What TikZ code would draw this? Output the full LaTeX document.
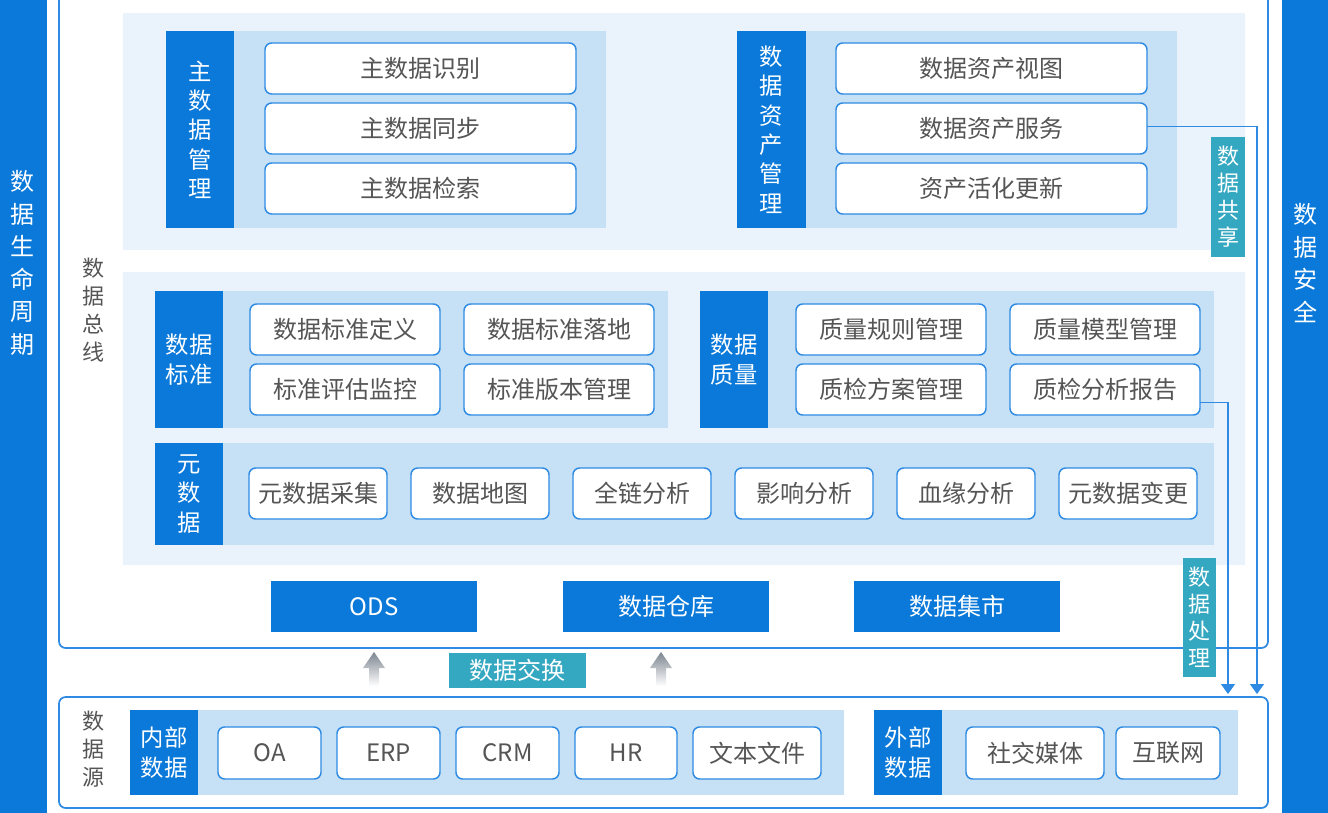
\documentclass[tikz,border=0pt]{standalone}
\usepackage{fontspec}
\setmainfont{Noto Sans CJK SC}
\usetikzlibrary{arrows.meta,positioning,fit}
\usepackage{xcolor}
\definecolor{deep}{HTML}{0A79D9}
\definecolor{pane}{HTML}{C6E1F6}
\definecolor{zone}{HTML}{EAF3FC}
\definecolor{tealtag}{HTML}{35A8C1}
\definecolor{wire}{HTML}{2E8AE2}
\definecolor{ink}{HTML}{555555}
\definecolor{liftgray}{HTML}{7D8590}
\newlength{\px}
\setlength{\px}{0.75pt}
\tikzset{
  >=Latex,
  every node/.style={text=ink},
  bar/.style={fill=deep,inner sep=0},
  bartext/.style={text=white,align=center,inner sep=0,font=\fontsize{18}{24.4}\selectfont},
  frame/.style={draw=wire,line width=1.3pt,rounded corners=5pt,inner sep=0},
  zonebox/.style={fill=zone,inner sep=0},
  panebox/.style={fill=pane,inner sep=0},
  headbox/.style={fill=deep,text=white,inner sep=0,outer sep=0,anchor=north west,align=center,font=\fontsize{17.5}{22}\selectfont},
  item/.style={draw=wire,line width=1.1pt,rounded corners=5pt,fill=white,inner sep=0,outer sep=0,minimum height=51\px,font=\fontsize{18}{22}\selectfont},
  tag/.style={fill=tealtag,text=white,inner sep=0,outer sep=0,anchor=north west,align=center,font=\fontsize{16.5}{20.3}\selectfont},
  storebox/.style={fill=deep,text=white,inner sep=0,outer sep=0,anchor=north west,minimum width=206\px,minimum height=51\px,font=\fontsize{18}{22}\selectfont},
  caption/.style={align=center,inner sep=0,font=\fontsize{16.5}{21}\selectfont},
  flow/.style={-{Triangle[width=10.5pt,length=7.5pt]},draw=wire,line width=1.2pt},
  lift/.style={top color=liftgray,bottom color=white,draw=none},
}

\begin{document}
\begin{tikzpicture}[x=0.75pt,y=-0.75pt]
\useasboundingbox (0,0) rectangle (1328,813);

\node[bar,fit={(0,0) (47,813)}] (life) {};
\node[bartext] (lifetxt) at (23,263) {数\\据\\生\\命\\周\\期};
\node[bar,fit={(1282,0) (1328,813)}] (safe) {};
\node[bartext] (safetxt) at (1305,263) {数\\据\\安\\全};

\node[frame,fit={(59,-20) (1268,648)}] (bus) {};
\node[caption] (buscap) at (93,310) {数\\据\\总\\线};

\node[zonebox,fit={(123,13) (1245,250)}] (topzone) {};
\node[panebox,fit={(234,31) (606,228)}] (mdmpane) {};
\node[headbox,minimum width=68\px,minimum height=197\px] (mdm) at (166,31) {主\\数\\据\\管\\理};
\node[item,minimum width=311\px,anchor=north west] (mdm1) at (265,43) {主数据识别};
\node[item,minimum width=311\px,below=9\px of mdm1] (mdm2) {主数据同步};
\node[item,minimum width=311\px,below=9\px of mdm2] (mdm3) {主数据检索};

\node[panebox,fit={(806,31) (1177,228)}] (assetpane) {};
\node[headbox,minimum width=69\px,minimum height=197\px] (asset) at (737,31) {数\\据\\资\\产\\管\\理};
\node[item,minimum width=311\px,anchor=north west] (asset1) at (836,43) {数据资产视图};
\node[item,minimum width=311\px,below=9\px of asset1] (asset2) {数据资产服务};
\node[item,minimum width=311\px,below=9\px of asset2] (asset3) {资产活化更新};

\node[zonebox,fit={(123,272) (1245,565)}] (midzone) {};
\node[panebox,fit={(223,291) (668,428)}] (stdpane) {};
\node[headbox,minimum width=68\px,minimum height=137\px] (std) at (155,291) {数据\\标准};
\node[item,minimum width=190\px,anchor=north west] (std1) at (250,304) {数据标准定义};
\node[item,minimum width=190\px,right=24\px of std1] (std2) {数据标准落地};
\node[item,minimum width=190\px,below=9\px of std1] (std3) {标准评估监控};
\node[item,minimum width=190\px,below=9\px of std2] (std4) {标准版本管理};

\node[panebox,fit={(768,291) (1214,428)}] (qualpane) {};
\node[headbox,minimum width=68\px,minimum height=137\px] (qual) at (700,291) {数据\\质量};
\node[item,minimum width=190\px,anchor=north west] (qual1) at (796,304) {质量规则管理};
\node[item,minimum width=190\px,right=24\px of qual1] (qual2) {质量模型管理};
\node[item,minimum width=190\px,below=9\px of qual1] (qual3) {质检方案管理};
\node[item,minimum width=190\px,below=9\px of qual2] (qual4) {质检分析报告};

\node[panebox,fit={(223,443) (1214,545)}] (metapane) {};
\node[headbox,minimum width=68\px,minimum height=102\px] (meta) at (155,443) {元\\数\\据};
\node[item,minimum width=138\px,anchor=north west] (meta1) at (249,468) {元数据采集};
\node[item,minimum width=138\px,right=24\px of meta1] (meta2) {数据地图};
\node[item,minimum width=138\px,right=24\px of meta2] (meta3) {全链分析};
\node[item,minimum width=138\px,right=24\px of meta3] (meta4) {影响分析};
\node[item,minimum width=138\px,right=24\px of meta4] (meta5) {血缘分析};
\node[item,minimum width=138\px,right=24\px of meta5] (meta6) {元数据变更};

\node[storebox] (ods) at (271,581) {ODS};
\node[storebox] (dw) at (563,581) {数据仓库};
\node[storebox] (dm) at (854,581) {数据集市};

\node[tag,minimum width=34\px,minimum height=120\px] (share) at (1211,137) {数\\据\\共\\享};
\node[tag,minimum width=33\px,minimum height=119\px] (proc) at (1183,558) {数\\据\\处\\理};
\node[tag,minimum width=137\px,minimum height=35\px,font=\fontsize{18}{22}\selectfont] (swap) at (449,653) {数据交换};

\path[lift] (374,652) -- (385,668) -- (379,668) -- (379,686) -- (369,686) -- (369,668) -- (363,668) -- cycle;
\path[lift] (661,652) -- (672,668) -- (666,668) -- (666,686) -- (656,686) -- (656,668) -- (650,668) -- cycle;

\node[frame,fit={(59,697) (1268,808)}] (src) {};
\node[caption] (srccap) at (93,749) {数\\据\\源};
\node[panebox,fit={(198,710) (844,795)}] (inpane) {};
\node[headbox,minimum width=68\px,minimum height=85\px] (inner) at (130,710) {内部\\数据};
\node[item,minimum width=103\px,minimum height=52\px,anchor=north west] (oa) at (218,727) {OA};
\node[item,minimum width=103\px,minimum height=52\px,right=16\px of oa] (erp) {ERP};
\node[item,minimum width=103\px,minimum height=52\px,right=16\px of erp] (crm) {CRM};
\node[item,minimum width=102\px,minimum height=52\px,right=16\px of crm] (hr) {HR};
\node[item,minimum width=128\px,minimum height=52\px,right=16\px of hr] (doc) {文本文件};
\node[panebox,fit={(942,710) (1238,795)}] (outpane) {};
\node[headbox,minimum width=68\px,minimum height=85\px] (outer) at (874,710) {外部\\数据};
\node[item,minimum width=138\px,minimum height=52\px,anchor=north west] (social) at (966,727) {社交媒体};
\node[item,minimum width=104\px,minimum height=52\px,right=12\px of social] (web) {互联网};

\coordinate (shareend) at (1257,694);
\coordinate (procend) at (1228,694);
\draw[flow] ([yshift=1.5pt]asset2.east) -| (shareend);
\draw[flow] ([yshift=-9.75pt]qual4.east) -| (procend);

\end{tikzpicture}
\end{document}
